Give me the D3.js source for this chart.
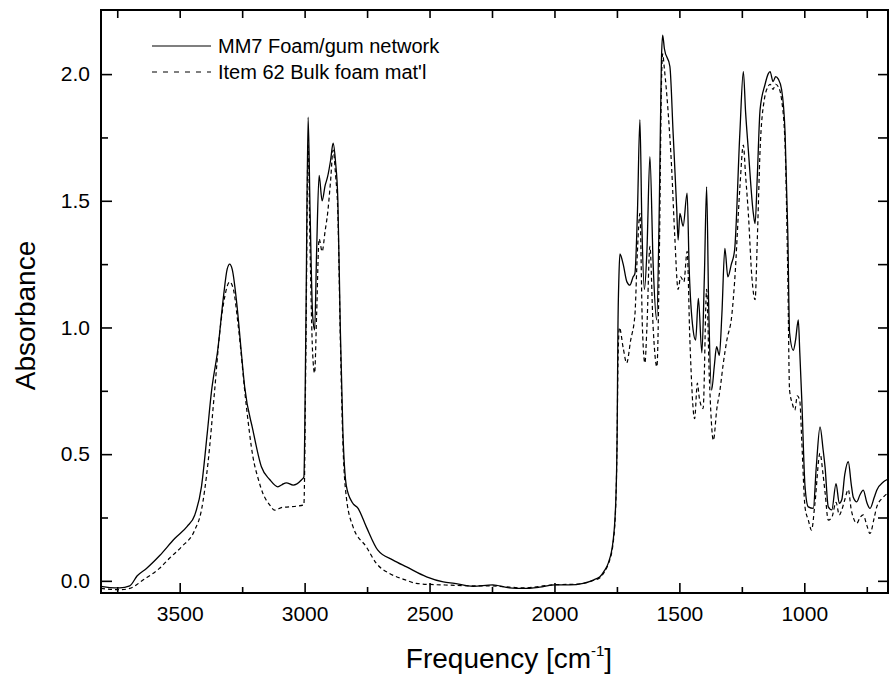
<!DOCTYPE html>
<html><head><meta charset="utf-8">
<script src="https://cdn.jsdelivr.net/npm/d3@7/dist/d3.min.js"></script>
<style>
body{margin:0;background:#fff}
svg text{font-family:"Liberation Sans",Arial,Helvetica,sans-serif;fill:#000}
</style>
</head><body>
<svg id="chart" width="891" height="681"></svg>
<script>
// ---- data ----
const seriesNames = ["MM7 Foam/gum network", "Item 62 Bulk foam mat'l"];

const mm7Wavenumber = [3815,3780,3740,3700,3670,3633,3580,3520,3470,3440,3413,3390,3373,3347,3325,3310,3300,3290,3270,3255,3240,3207,3173,3140,3107,3090,3073,3046,3013,3003,2995,2986,2978,2968,2960,2952,2942,2930,2918,2908,2896,2886,2876,2867,2857,2847,2833,2810,2786,2753,2707,2646,2592,2512,2445,2400,2326,2247,2180,2125,2060,1998,1940,1885,1840,1818,1800,1785,1765,1754,1749,1746,1742,1738,1725,1710,1698,1685,1678,1668,1658,1650,1640,1630,1618,1605,1591,1580,1572,1567,1560,1538,1525,1511,1505,1498,1485,1469,1461,1445,1435,1424,1410,1400,1391,1383,1371,1360,1351,1340,1330,1318,1306,1292,1279,1258,1244,1235,1224,1204,1197,1188,1177,1157,1145,1137,1125,1115,1104,1091,1077,1066,1059,1044,1035,1024,1018,1010,997,984,964,952,937,925,917,904,890,873,860,850,838,824,812,804,790,777,764,750,737,720,710,684,668];
const mm7Absorbance = [-0.022,-0.027,-0.028,-0.02,0.02,0.049,0.10,0.167,0.215,0.259,0.371,0.58,0.746,0.917,1.12,1.23,1.25,1.23,1.08,0.92,0.766,0.595,0.45,0.40,0.371,0.38,0.387,0.378,0.398,0.41,1.0,1.83,1.45,1.05,0.99,1.3,1.60,1.50,1.56,1.595,1.66,1.727,1.65,1.503,0.99,0.595,0.375,0.31,0.286,0.213,0.121,0.082,0.055,0.016,-0.004,-0.01,-0.022,-0.016,-0.028,-0.03,-0.025,-0.016,-0.016,-0.01,0.005,0.016,0.04,0.069,0.16,0.33,0.595,0.99,1.2,1.29,1.25,1.18,1.167,1.20,1.213,1.45,1.82,1.4,1.15,1.3,1.674,1.25,1.03,1.5,2.05,2.154,2.10,2.03,1.766,1.476,1.345,1.45,1.40,1.53,1.24,0.99,0.95,1.115,0.90,1.2,1.555,1.1,0.753,0.85,0.924,0.89,1.05,1.312,1.20,1.25,1.305,1.766,2.01,1.85,1.70,1.45,1.41,1.6,1.86,1.96,2.0,2.01,1.97,1.99,1.98,1.94,1.77,1.37,0.98,0.91,0.95,1.03,0.9,0.713,0.371,0.292,0.286,0.45,0.608,0.52,0.45,0.292,0.28,0.384,0.306,0.32,0.42,0.47,0.38,0.33,0.312,0.34,0.358,0.31,0.286,0.33,0.358,0.39,0.40];

const item62Wavenumber = [3815,3740,3700,3647,3580,3540,3493,3440,3413,3387,3360,3340,3320,3300,3285,3265,3233,3207,3185,3167,3140,3120,3090,3060,3030,3003,2995,2986,2978,2968,2960,2952,2942,2930,2918,2908,2896,2886,2876,2867,2857,2847,2833,2806,2753,2713,2660,2600,2553,2480,2419,2330,2250,2180,2125,2060,1998,1940,1885,1840,1818,1800,1785,1765,1754,1749,1746,1740,1725,1711,1695,1678,1668,1658,1648,1638,1630,1618,1605,1590,1580,1572,1567,1560,1545,1531,1519,1505,1495,1482,1469,1458,1439,1428,1420,1405,1391,1380,1364,1350,1338,1324,1310,1290,1279,1258,1244,1235,1224,1210,1197,1188,1177,1160,1145,1137,1125,1115,1104,1091,1077,1066,1059,1048,1038,1028,1018,1010,997,984,971,958,937,925,917,904,890,873,860,850,838,824,812,804,790,777,764,750,737,720,710,684,668];
const item62Absorbance = [-0.03,-0.035,-0.03,0.003,0.05,0.09,0.134,0.2,0.279,0.463,0.753,0.978,1.12,1.18,1.15,1.0,0.687,0.49,0.40,0.345,0.30,0.279,0.29,0.292,0.295,0.30,0.9,1.72,1.3,0.9,0.82,1.05,1.35,1.30,1.38,1.45,1.58,1.70,1.6,1.45,0.95,0.55,0.33,0.213,0.134,0.069,0.029,0.005,-0.01,-0.015,-0.017,-0.02,-0.02,-0.025,-0.028,-0.022,-0.015,-0.014,-0.01,0.003,0.012,0.035,0.065,0.15,0.32,0.58,0.85,1.0,0.92,0.86,0.95,1.05,1.3,1.45,1.0,0.86,1.0,1.32,1.0,0.845,1.3,1.95,2.08,2.02,1.85,1.63,1.37,1.15,1.2,1.18,1.30,0.95,0.64,0.78,0.72,0.68,1.15,0.8,0.555,0.68,0.75,0.86,0.95,1.05,1.18,1.55,1.72,1.6,1.45,1.2,1.11,1.35,1.7,1.9,1.95,1.96,1.94,1.96,1.95,1.9,1.72,1.2,0.753,0.70,0.674,0.73,0.71,0.55,0.29,0.24,0.2,0.3,0.503,0.42,0.35,0.24,0.25,0.31,0.26,0.28,0.32,0.36,0.28,0.25,0.227,0.25,0.26,0.22,0.187,0.25,0.292,0.33,0.345];

const xMajorTicks = [3500, 3000, 2500, 2000, 1500, 1000];
const xMinorTicks = [3750, 3250, 2750, 2250, 1750, 1250, 750];
const yMajorTicks = [0.0, 0.5, 1.0, 1.5, 2.0];
const yMinorTicks = [0.25, 0.75, 1.25, 1.75];
const xDomain = [3815, 665];
const yDomain = [-0.048, 2.253];
const xTitle = "Frequency [cm";
const xTitleSup = "-1";
const yTitle = "Absorbance";

// ---- layout ----
const svg = d3.select("#chart");
const L = 101, R = 888, T = 10, B = 593;
const x = d3.scaleLinear().domain(xDomain).range([L, R]);
const y = d3.scaleLinear().domain(yDomain).range([B, T]);

const gAxes = svg.append("g");
function styleAxis(g, fs) {
  g.selectAll("path.domain").remove();
  g.selectAll(".tick line").attr("stroke", "#000").attr("stroke-width", 1.6);
  g.selectAll(".tick text").attr("font-size", fs).attr("fill", "#000");
}

// bottom axis: major + minor (inward)
const gb = gAxes.append("g").attr("transform", `translate(0,${B})`)
  .call(d3.axisBottom(x).tickValues(xMajorTicks).tickSizeInner(-10).tickSizeOuter(0).tickPadding(13).tickFormat(d3.format("d")));
styleAxis(gb, 21);
gAxes.append("g").attr("transform", `translate(0,${B})`)
  .call(d3.axisBottom(x).tickValues(xMinorTicks).tickSizeInner(-6).tickSizeOuter(0).tickFormat(""))
  .call(g => styleAxis(g, 21));

// left axis
const gl = gAxes.append("g").attr("transform", `translate(${L},0)`)
  .call(d3.axisLeft(y).tickValues(yMajorTicks).tickSizeInner(-11).tickSizeOuter(0).tickPadding(11).tickFormat(d3.format(".1f")));
styleAxis(gl, 21);
gAxes.append("g").attr("transform", `translate(${L},0)`)
  .call(d3.axisLeft(y).tickValues(yMinorTicks).tickSizeInner(-7).tickSizeOuter(0).tickFormat(""))
  .call(g => styleAxis(g, 21));

// top axis (all 250 ticks, no labels)
gAxes.append("g").attr("transform", `translate(0,${T})`)
  .call(d3.axisTop(x).tickValues(xMajorTicks.concat(xMinorTicks)).tickSizeInner(-8).tickSizeOuter(0).tickFormat(""))
  .call(g => styleAxis(g, 21));
// right axis
gAxes.append("g").attr("transform", `translate(${R},0)`)
  .call(d3.axisRight(y).tickValues(yMajorTicks.concat(yMinorTicks)).tickSizeInner(-10).tickSizeOuter(0).tickFormat(""))
  .call(g => styleAxis(g, 21));

// frame
svg.append("rect").attr("x", L).attr("y", T).attr("width", R - L).attr("height", B - T)
  .attr("fill", "none").attr("stroke", "#000").attr("stroke-width", 2);

// ---- curves ----
svg.append("clipPath").attr("id", "plotclip")
  .append("rect").attr("x", L).attr("y", T).attr("width", R - L).attr("height", B - T);
const line = d3.line().x(d => x(d[0])).y(d => y(d[1])).curve(d3.curveMonotoneX);
const solidData = mm7Wavenumber.map((w, i) => [w, mm7Absorbance[i]]);
const dashedData = item62Wavenumber.map((w, i) => [w, item62Absorbance[i]]);
const gPlot = svg.append("g").attr("clip-path", "url(#plotclip)");
gPlot.append("path").datum(dashedData).attr("d", line)
  .attr("fill", "none").attr("stroke", "#000").attr("stroke-width", 1.2).attr("stroke-dasharray", "4,3");
gPlot.append("path").datum(solidData).attr("d", line)
  .attr("fill", "none").attr("stroke", "#000").attr("stroke-width", 1.3);

// ---- legend ----
const legend = svg.append("g");
const legendRows = [{name: seriesNames[0], dash: null, y: 46}, {name: seriesNames[1], dash: "5,6", y: 72}];
legendRows.forEach(r => {
  legend.append("line").attr("x1", 152).attr("x2", 211).attr("y1", r.y).attr("y2", r.y)
    .attr("stroke", "#000").attr("stroke-width", 1.2).attr("stroke-dasharray", r.dash);
  legend.append("text").attr("x", 218).attr("y", r.y + 7).attr("font-size", 20).text(r.name);
});

// ---- axis titles ----
const xt = svg.append("text").attr("x", 509).attr("y", 668).attr("text-anchor", "middle").attr("font-size", 28);
xt.append("tspan").text(xTitle);
xt.append("tspan").attr("font-size", 15).attr("dy", -12).text(xTitleSup);
xt.append("tspan").attr("dy", 12).text("]");

svg.append("text").attr("transform", `translate(35,${(238 + 393) / 2}) rotate(-90)`)
  .attr("text-anchor", "middle").attr("font-size", 28).text(yTitle);
</script>
</body></html>
